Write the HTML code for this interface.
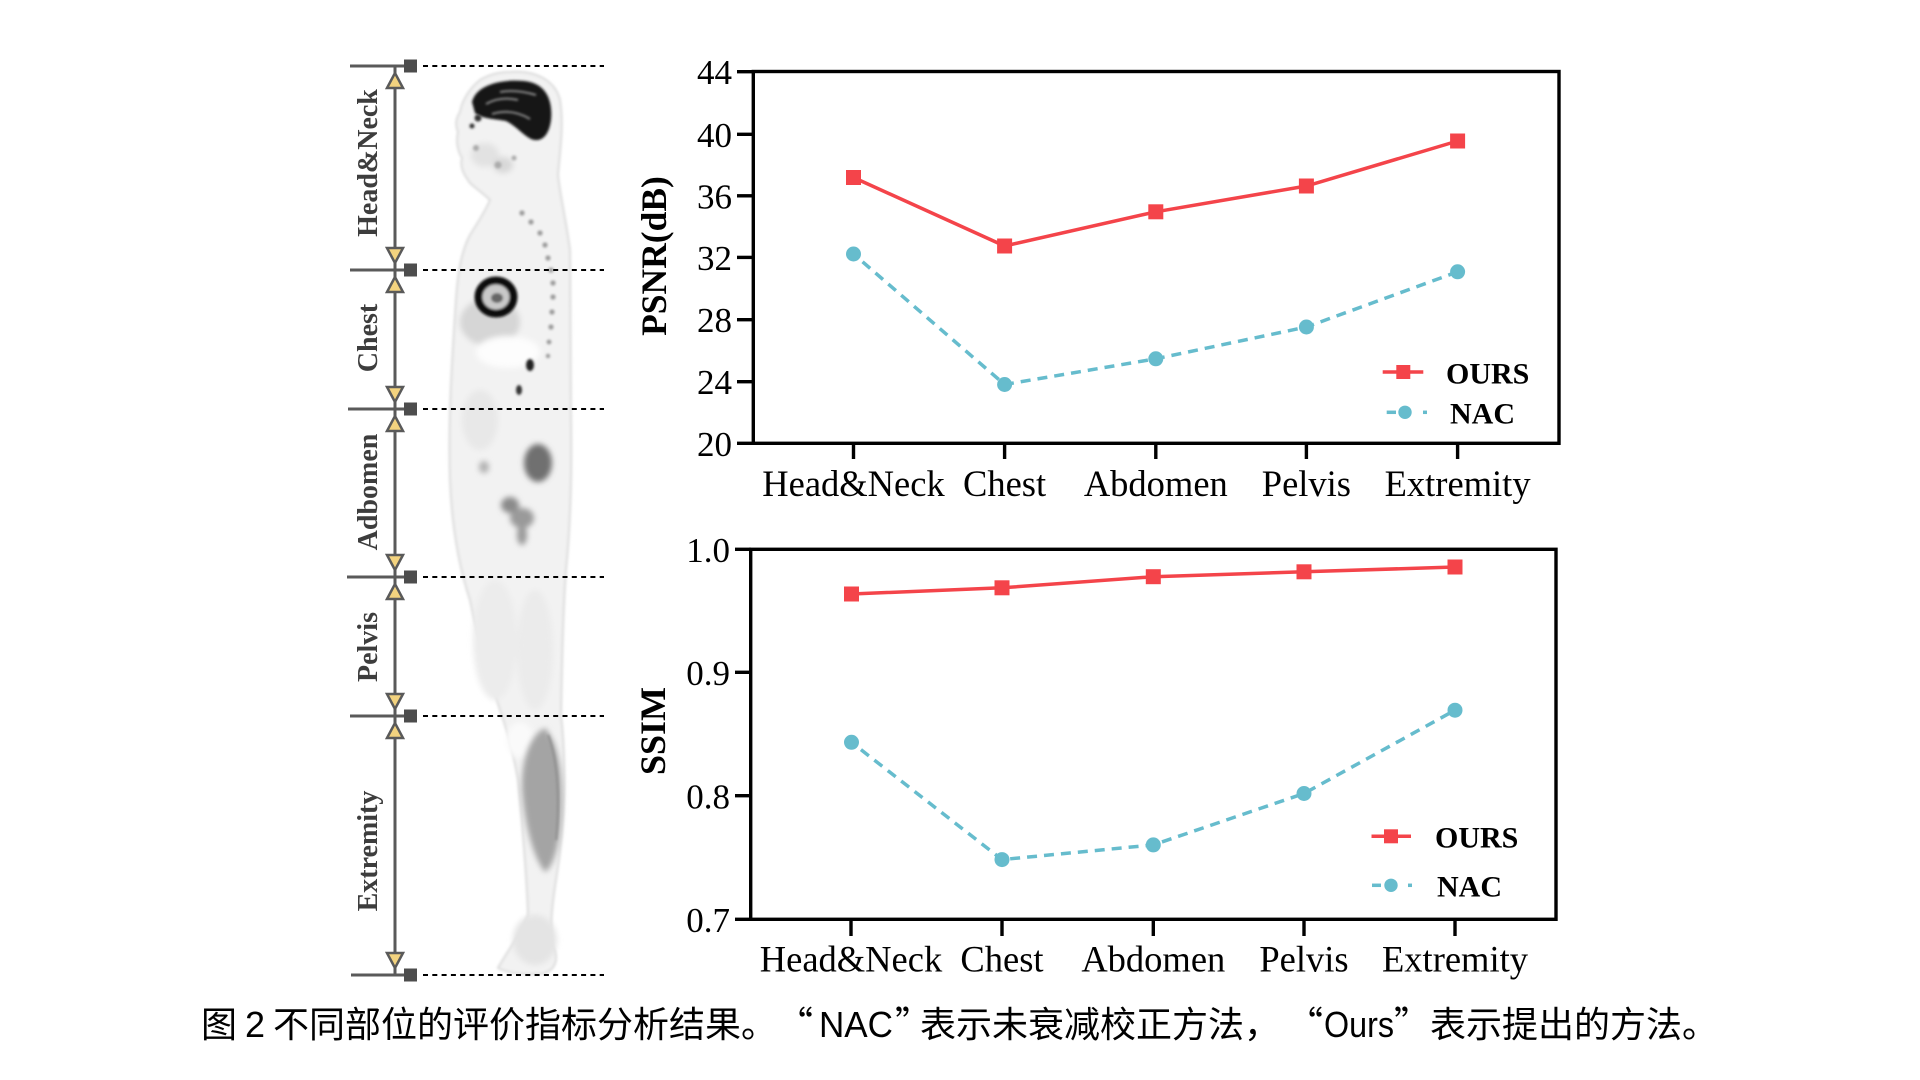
<!DOCTYPE html>
<html>
<head>
<meta charset="utf-8">
<style>
html,body{margin:0;padding:0;background:#fff;}
svg{display:block;}
.tick{font-family:"Liberation Serif",serif;font-size:35px;fill:#000;}
.xl{font-family:"Liberation Serif",serif;font-size:36.5px;fill:#000;}
.ttl{font-family:"Liberation Serif",serif;font-weight:bold;fill:#000;}
.lg{font-family:"Liberation Serif",serif;font-weight:bold;font-size:30px;fill:#000;}
.reg{font-family:"Liberation Serif",serif;font-weight:bold;font-size:28px;fill:#3d3d3d;}
.cap{font-family:"Liberation Sans","Noto Sans CJK SC",sans-serif;font-size:36px;fill:#000;}
.capq{font-family:"Noto Sans CJK SC","Liberation Sans",sans-serif;font-size:36px;fill:#000;}
</style>
</head>
<body>
<svg width="1920" height="1080" viewBox="0 0 1920 1080" xmlns="http://www.w3.org/2000/svg">
<defs>
<filter id="b1" x="-20%" y="-20%" width="140%" height="140%"><feGaussianBlur stdDeviation="1.2"/></filter>
<filter id="b3" x="-30%" y="-30%" width="160%" height="160%"><feGaussianBlur stdDeviation="3"/></filter>
</defs>
<rect width="1920" height="1080" fill="#fff"/>

<!-- ================= BODY IMAGE ================= -->
<g>
<path filter="url(#b1)" d="M510,72 C535,70 555,80 560,100 C564,125 560,150 558,175 C560,195 566,220 570,250 L571,420 C572,480 570,530 566,570 C563,610 562,660 561,715 C566,760 566,820 556,880 C552,905 550,925 552,945 C560,958 556,972 540,974 C520,975 505,972 498,968 C505,955 520,935 528,915 C527,880 522,820 518,780 C512,745 505,725 500,710 C490,680 478,640 470,600 C460,570 452,530 450,480 C448,420 452,360 456,300 C458,270 462,250 470,235 C478,222 485,212 490,200 C480,190 470,185 468,180 C462,172 460,165 462,158 C457,150 456,140 458,132 C455,125 456,118 460,112 C462,100 470,88 480,80 C490,74 500,72 510,72 Z" fill="#f2f2f2" stroke="#dcdcdc" stroke-width="2"/>
<!-- soft inner shading -->
<g filter="url(#b3)">
<ellipse cx="485" cy="155" rx="14" ry="12" fill="#e2e2e2"/>
<ellipse cx="503" cy="165" rx="10" ry="8" fill="#d8d8d8"/>
<ellipse cx="490" cy="322" rx="30" ry="24" fill="#d6d6d6"/>
<ellipse cx="508" cy="352" rx="32" ry="16" fill="#fdfdfd"/>
<ellipse cx="480" cy="420" rx="18" ry="30" fill="#e8e8e8"/>
<ellipse cx="495" cy="640" rx="22" ry="60" fill="#ececec"/>
<ellipse cx="535" cy="650" rx="18" ry="60" fill="#ebebeb"/>
<ellipse cx="520" cy="740" rx="14" ry="18" fill="#fafafa"/>
<ellipse cx="535" cy="940" rx="22" ry="25" fill="#e4e4e4"/>
</g>
<!-- brain -->
<path filter="url(#b1)" d="M472,102 C476,86 498,79 524,81 C546,83 553,100 551,120 C549,136 541,143 531,139 C523,135 516,126 506,121 C496,119 482,119 475,113 Z" fill="#141414"/>
<g stroke="#8a8a8a" stroke-width="2" fill="none" filter="url(#b1)">
<path d="M486,104 Q500,96 518,100"/>
<path d="M492,114 Q512,108 530,119"/>
<path d="M500,92 Q516,89 536,95"/>
</g>
<g fill="#333" filter="url(#b1)">
<circle cx="478" cy="118" r="3.5"/>
<circle cx="472" cy="126" r="2.5"/>
</g>
<g fill="#aaa" filter="url(#b1)">
<circle cx="476" cy="148" r="3"/>
<circle cx="498" cy="165" r="3.5"/>
<circle cx="514" cy="158" r="2.5"/>
</g>
<!-- spine -->
<g fill="#9a9a9a" filter="url(#b1)">
<circle cx="522" cy="213" r="2.6"/>
<circle cx="531" cy="222" r="2.6"/>
<circle cx="540" cy="233" r="2.6"/>
<circle cx="545" cy="245" r="2.6"/>
<circle cx="548" cy="258" r="2.6"/>
<circle cx="551" cy="270" r="2.6"/>
<circle cx="553" cy="283" r="2.6"/>
<circle cx="553" cy="297" r="2.6"/>
<circle cx="552" cy="312" r="2.6"/>
<circle cx="551" cy="327" r="2.6"/>
<circle cx="549" cy="342" r="2.4"/>
<circle cx="548" cy="356" r="2.2"/>
</g>
<!-- heart -->
<g filter="url(#b1)">
<ellipse cx="496" cy="297" rx="17.5" ry="16.5" fill="#c9c9c9" stroke="#111" stroke-width="8"/>
<ellipse cx="497" cy="298" rx="6" ry="5" fill="#666"/>
</g>
<!-- abdomen spots -->
<g filter="url(#b1)">
<ellipse cx="530" cy="365" rx="4" ry="6" fill="#222"/>
<ellipse cx="519" cy="390" rx="3" ry="5" fill="#333"/>
</g>
<g filter="url(#b3)">
<ellipse cx="538" cy="463" rx="14" ry="19" fill="#6f6f6f"/>
<ellipse cx="510" cy="505" rx="9" ry="8" fill="#8a8a8a"/>
<ellipse cx="522" cy="518" rx="12" ry="10" fill="#9a9a9a"/>
<ellipse cx="522" cy="535" rx="5" ry="10" fill="#999"/>
<ellipse cx="484" cy="467" rx="5" ry="6" fill="#b0b0b0"/>
</g>
<!-- calf -->
<path filter="url(#b3)" d="M545,728 C560,745 564,780 561,820 C559,850 552,868 545,872 C535,860 525,830 522,790 C521,760 530,735 545,728 Z" fill="#a4a4a4"/>
<path filter="url(#b1)" d="M548,735 C558,760 560,800 556,840" stroke="#8a8a8a" stroke-width="2" fill="none"/>
</g>

<!-- ================= REGION ANNOTATIONS ================= -->
<g>
<line x1="395" y1="66" x2="395" y2="975" stroke="#5a5a5a" stroke-width="3"/>
<g stroke="#5a5a5a" stroke-width="3">
<line x1="350" y1="66" x2="406" y2="66"/>
<line x1="350" y1="270" x2="406" y2="270"/>
<line x1="348" y1="409" x2="406" y2="409"/>
<line x1="347" y1="577" x2="406" y2="577"/>
<line x1="350" y1="716" x2="406" y2="716"/>
<line x1="351" y1="975" x2="406" y2="975"/>
</g>
<g fill="#4d4d4d">
<rect x="404" y="59.5" width="13" height="13"/>
<rect x="404" y="263.5" width="13" height="13"/>
<rect x="404" y="402.5" width="13" height="13"/>
<rect x="404" y="570.5" width="13" height="13"/>
<rect x="404" y="709.5" width="13" height="13"/>
<rect x="404" y="968.5" width="13" height="13"/>
</g>
<g stroke="#000" stroke-width="2" stroke-dasharray="5 4.3">
<line x1="423" y1="66" x2="604" y2="66"/>
<line x1="423" y1="270" x2="604" y2="270"/>
<line x1="423" y1="409" x2="604" y2="409"/>
<line x1="423" y1="577" x2="604" y2="577"/>
<line x1="423" y1="716" x2="604" y2="716"/>
<line x1="423" y1="975" x2="604" y2="975"/>
</g>
<g fill="#f3d37f" stroke="#5a5a5a" stroke-width="2.5" stroke-linejoin="miter">
<polygon points="395,73 387,88 403,88"/>
<polygon points="395,263 387,248 403,248"/>
<polygon points="395,277 387,292 403,292"/>
<polygon points="395,402 387,387 403,387"/>
<polygon points="395,416 387,431 403,431"/>
<polygon points="395,570 387,555 403,555"/>
<polygon points="395,584 387,599 403,599"/>
<polygon points="395,709 387,694 403,694"/>
<polygon points="395,723 387,738 403,738"/>
<polygon points="395,968 387,953 403,953"/>
</g>
<text class="reg" text-anchor="middle" transform="translate(377,163) rotate(-90)">Head&amp;Neck</text>
<text class="reg" text-anchor="middle" transform="translate(377,338) rotate(-90)">Chest</text>
<text class="reg" text-anchor="middle" transform="translate(377,492) rotate(-90)">Adbomen</text>
<text class="reg" text-anchor="middle" transform="translate(377,647) rotate(-90)">Pelvis</text>
<text class="reg" text-anchor="middle" transform="translate(377,851) rotate(-90)">Extremity</text>
</g>

<!-- ================= TOP CHART (PSNR) ================= -->
<g>
<rect x="753.3" y="71.5" width="805.7" height="371.8" fill="none" stroke="#000" stroke-width="3.4"/>
<g stroke="#000" stroke-width="3.4">
<line x1="737" y1="71.7" x2="753" y2="71.7"/>
<line x1="737" y1="134.3" x2="753" y2="134.3"/>
<line x1="737" y1="195.8" x2="753" y2="195.8"/>
<line x1="737" y1="257.4" x2="753" y2="257.4"/>
<line x1="737" y1="319.7" x2="753" y2="319.7"/>
<line x1="737" y1="381.7" x2="753" y2="381.7"/>
<line x1="737" y1="443.3" x2="753" y2="443.3"/>
<line x1="853.5" y1="443" x2="853.5" y2="459"/>
<line x1="1004.6" y1="443" x2="1004.6" y2="459"/>
<line x1="1155.8" y1="443" x2="1155.8" y2="459"/>
<line x1="1306.4" y1="443" x2="1306.4" y2="459"/>
<line x1="1457.6" y1="443" x2="1457.6" y2="459"/>
</g>
<g class="tick" text-anchor="end">
<text x="732" y="84.2">44</text>
<text x="732" y="146.8">40</text>
<text x="732" y="208.3">36</text>
<text x="732" y="269.9">32</text>
<text x="732" y="332.2">28</text>
<text x="732" y="394.2">24</text>
<text x="732" y="455.8">20</text>
</g>
<g class="xl" text-anchor="middle">
<text x="853.5" y="496">Head&amp;Neck</text>
<text x="1004.6" y="496">Chest</text>
<text x="1155.8" y="496">Abdomen</text>
<text x="1306.4" y="496">Pelvis</text>
<text x="1457.6" y="496">Extremity</text>
</g>
<text class="ttl" font-size="35.5" text-anchor="middle" transform="translate(666,256) rotate(-90)">PSNR(dB)</text>

<polyline points="853.5,254 1004.6,384.5 1155.8,358.8 1306.4,327 1457.6,271.8" fill="none" stroke="#66bccd" stroke-width="3.5" stroke-dasharray="10 7" stroke-dashoffset="-12"/>
<polyline points="853.5,177.5 1004.6,246 1155.8,211.8 1306.4,186 1457.6,141" fill="none" stroke="#f4444a" stroke-width="3.5"/>
<g fill="#f4444a">
<rect x="846" y="170" width="15" height="15"/>
<rect x="997.1" y="238.5" width="15" height="15"/>
<rect x="1148.3" y="204.3" width="15" height="15"/>
<rect x="1298.9" y="178.5" width="15" height="15"/>
<rect x="1450.1" y="133.5" width="15" height="15"/>
</g>
<g fill="#66bccd">
<circle cx="853.5" cy="254" r="7.5"/>
<circle cx="1004.6" cy="384.5" r="7.5"/>
<circle cx="1155.8" cy="358.8" r="7.5"/>
<circle cx="1306.4" cy="327" r="7.5"/>
<circle cx="1457.6" cy="271.8" r="7.5"/>
</g>
<!-- legend -->
<line x1="1382.7" y1="372" x2="1423.3" y2="372" stroke="#f4444a" stroke-width="3.5"/>
<rect x="1396.3" y="365" width="14" height="14" fill="#f4444a"/>
<text class="lg" x="1446" y="383.3">OURS</text>
<line x1="1386.7" y1="412.3" x2="1396" y2="412.3" stroke="#66bccd" stroke-width="3.5"/>
<circle cx="1405" cy="412.3" r="6.7" fill="#66bccd"/>
<line x1="1423" y1="412.3" x2="1427" y2="412.3" stroke="#66bccd" stroke-width="3.5"/>
<text class="lg" x="1450" y="423.3">NAC</text>
</g>

<!-- ================= BOTTOM CHART (SSIM) ================= -->
<g>
<rect x="750.7" y="549.3" width="805.3" height="370" fill="none" stroke="#000" stroke-width="3.4"/>
<g stroke="#000" stroke-width="3.4">
<line x1="735" y1="549.3" x2="751" y2="549.3"/>
<line x1="735" y1="672.3" x2="751" y2="672.3"/>
<line x1="735" y1="795.7" x2="751" y2="795.7"/>
<line x1="735" y1="919.3" x2="751" y2="919.3"/>
<line x1="851" y1="919" x2="851" y2="936"/>
<line x1="1002" y1="919" x2="1002" y2="936"/>
<line x1="1153.3" y1="919" x2="1153.3" y2="936"/>
<line x1="1304" y1="919" x2="1304" y2="936"/>
<line x1="1455" y1="919" x2="1455" y2="936"/>
</g>
<g class="tick" text-anchor="end">
<text x="730" y="562">1.0</text>
<text x="730" y="685">0.9</text>
<text x="730" y="808.4">0.8</text>
<text x="730" y="932">0.7</text>
</g>
<g class="xl" text-anchor="middle">
<text x="851" y="971.7">Head&amp;Neck</text>
<text x="1002" y="971.7">Chest</text>
<text x="1153.3" y="971.7">Abdomen</text>
<text x="1304" y="971.7">Pelvis</text>
<text x="1455" y="971.7">Extremity</text>
</g>
<text class="ttl" font-size="36" text-anchor="middle" transform="translate(665,731) rotate(-90)">SSIM</text>

<polyline points="851.5,742.3 1002,859.6 1153.3,844.9 1304,793.5 1455,710.2" fill="none" stroke="#66bccd" stroke-width="3.5" stroke-dasharray="10 7" stroke-dashoffset="-12"/>
<polyline points="851.5,594 1002,587.8 1153.3,576.7 1304,571.8 1455,567" fill="none" stroke="#f4444a" stroke-width="3.5"/>
<g fill="#f4444a">
<rect x="844" y="586.5" width="15" height="15"/>
<rect x="994.5" y="580.3" width="15" height="15"/>
<rect x="1145.8" y="569.2" width="15" height="15"/>
<rect x="1296.5" y="564.3" width="15" height="15"/>
<rect x="1447.5" y="559.5" width="15" height="15"/>
</g>
<g fill="#66bccd">
<circle cx="851.5" cy="742.3" r="7.5"/>
<circle cx="1002" cy="859.6" r="7.5"/>
<circle cx="1153.3" cy="844.9" r="7.5"/>
<circle cx="1304" cy="793.5" r="7.5"/>
<circle cx="1455" cy="710.2" r="7.5"/>
</g>
<!-- legend -->
<line x1="1371.5" y1="836.3" x2="1411" y2="836.3" stroke="#f4444a" stroke-width="3.5"/>
<rect x="1384" y="829.3" width="14" height="14" fill="#f4444a"/>
<text class="lg" x="1435" y="847.6">OURS</text>
<line x1="1372" y1="885.3" x2="1381" y2="885.3" stroke="#66bccd" stroke-width="3.5"/>
<circle cx="1391" cy="885.3" r="6.7" fill="#66bccd"/>
<line x1="1408" y1="885.3" x2="1412" y2="885.3" stroke="#66bccd" stroke-width="3.5"/>
<text class="lg" x="1437" y="896.6">NAC</text>
</g>

<!-- ================= CAPTION ================= -->
<g>
<text class="cap" x="201" y="1037">图</text>
<text class="cap" x="245" y="1037">2</text>
<text class="cap" x="273" y="1037">不同部位的评价指标分析结果。</text>
<text class="capq" x="777" y="1037">“</text>
<text class="cap" x="819" y="1037" textLength="74" lengthAdjust="spacingAndGlyphs">NAC</text>
<text class="capq" x="895" y="1037">”</text>
<text class="cap" x="920" y="1037">表示未衰减校正方法，</text>
<text class="capq" x="1287" y="1037">“</text>
<text class="cap" x="1324" y="1037" textLength="70" lengthAdjust="spacingAndGlyphs">Ours</text>
<text class="capq" x="1394" y="1037">”</text>
<text class="cap" x="1430" y="1037">表示提出的方法。</text>
</g>
</svg>
</body>
</html>
